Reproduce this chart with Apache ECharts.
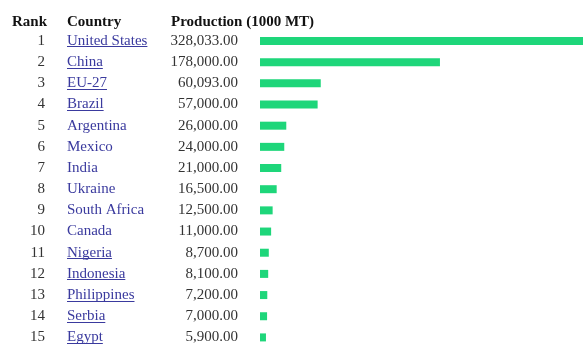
<!DOCTYPE html>
<html>
<head>
<meta charset="utf-8">
<script src="https://cdn.jsdelivr.net/npm/echarts@6/dist/echarts.min.js"></script>
<style>
html,body{margin:0;padding:0;background:#fff;}
#chart{width:583px;height:348px;}
</style>
</head>
<body>
<div id="chart"></div>
<script>
const ranks = ['1','2','3','4','5','6','7','8','9','10','11','12','13','14','15'];
const countries = ['United States','China','EU-27','Brazil','Argentina','Mexico','India','Ukraine','South Africa','Canada','Nigeria','Indonesia','Philippines','Serbia','Egypt'];
const production = [328033, 178000, 60093, 57000, 26000, 24000, 21000, 16500, 12500, 11000, 8700, 8100, 7200, 7000, 5900];
const underlined = [true, true, true, true, false, false, false, false, false, false, true, true, true, true, true];
const headers = ['Rank', 'Country', 'Production (1000 MT)'];

const FONT = '"Liberation Serif", "Times New Roman", serif';
const LINK = '#3a3a9e';
const NUM = '#333333';
const GRID_LEFT = 260;
const COUNTRY_X = 67;

const fmt = v => v.toLocaleString('en-US', {minimumFractionDigits: 2, maximumFractionDigits: 2});

const mctx = document.createElement('canvas').getContext('2d');
mctx.font = '15px ' + FONT;

const chart = echarts.init(document.getElementById('chart'), null, {renderer: 'canvas'});

const baseY = {
  type: 'category', inverse: true, position: 'left',
  axisLine: {show: false}, axisTick: {show: false}, splitLine: {show: false}
};

chart.setOption({
  animation: false,
  grid: {left: GRID_LEFT, right: 0, top: 30.4, bottom: -2, containLabel: false},
  xAxis: {type: 'value', min: 0, max: 319500, show: false},
  yAxis: [
    Object.assign({}, baseY, {data: ranks, offset: GRID_LEFT - 45,
      axisLabel: {margin: 0, fontFamily: FONT, fontSize: 15, color: NUM, align: 'right'}}),
    Object.assign({}, baseY, {data: countries, offset: GRID_LEFT - COUNTRY_X,
      axisLabel: {margin: 0, fontFamily: FONT, fontSize: 15, color: LINK, align: 'left'}}),
    Object.assign({}, baseY, {data: production.map(fmt), offset: GRID_LEFT - 238,
      axisLabel: {margin: 0, fontFamily: FONT, fontSize: 15, color: NUM, align: 'right'}})
  ],
  graphic: [
    {type: 'text', left: 12, top: 15, style: {text: headers[0], font: 'bold 15px ' + FONT, fill: '#111'}},
    {type: 'text', left: 67, top: 15, style: {text: headers[1], font: 'bold 15px ' + FONT, fill: '#111'}},
    {type: 'text', left: 171, top: 15, style: {text: headers[2], font: 'bold 15px ' + FONT, fill: '#111'}}
  ],
  series: [
    {
      type: 'bar', yAxisIndex: 0, data: production, barWidth: 8,
      itemStyle: {color: '#1ed67a'}, silent: true
    },
    {
      type: 'custom', yAxisIndex: 0, silent: true, clip: false,
      data: countries.map((c, i) => [0, i, underlined[i] ? 1 : 0]),
      renderItem: function (params, api) {
        if (!api.value(2)) return null;
        const i = api.value(1);
        const p = api.coord([0, i]);
        const w = mctx.measureText(countries[i]).width;
        const x = p[0] - (GRID_LEFT - COUNTRY_X);
        const y = Math.round(p[1] + 5.5) + 0.5;
        return {
          type: 'line',
          shape: {x1: x, y1: y, x2: x + w, y2: y},
          style: {stroke: LINK, lineWidth: 1}
        };
      }
    }
  ]
});
</script>
</body>
</html>
